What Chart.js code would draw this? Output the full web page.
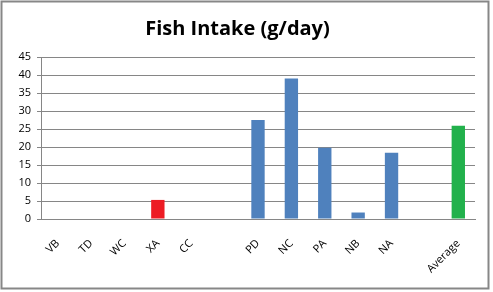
<!DOCTYPE html>
<html>
<head>
<meta charset="utf-8">
<script src="https://cdn.jsdelivr.net/npm/chart.js@4/dist/chart.umd.min.js"></script>
<style>
  html, body { margin: 0; padding: 0; background: #fff; }
  #wrap { width: 493px; height: 292px; }
</style>
</head>
<body>
<div id="wrap"><canvas id="myChart" width="493" height="292"></canvas></div>
<script>
// data
var categories = ['VB', 'TD', 'WC', 'XA', 'CC', '', 'PD', 'NC', 'PA', 'NB', 'NA', '', 'Average'];
var intake = [0, 0, 0, 5.3, 0, null, 27.5, 39, 19.8, 1.8, 18.4, null, 25.9];
var barColors = ['#4f81bd', '#4f81bd', '#4f81bd', '#ed1c24', '#4f81bd', '#4f81bd',
  '#4f81bd', '#4f81bd', '#4f81bd', '#4f81bd', '#4f81bd', '#4f81bd', '#22b14c'];
var yTicks = [0, 5, 10, 15, 20, 25, 30, 35, 40, 45];

// outer frame like the spreadsheet chart border
const framePlugin = {
  id: 'frame',
  beforeDraw: chart => {
    const c = chart.ctx;
    c.save();
    c.fillStyle = '#fff';
    c.fillRect(0, 0, chart.width, chart.height);
    c.strokeStyle = '#878787';
    c.lineWidth = 2;
    c.strokeRect(1.5, 1.5, 487, 287);
    c.restore();
  }
};

const data = {
  labels: categories,
  datasets: [{
    label: 'Fish Intake',
    data: intake,
    backgroundColor: barColors,
    borderWidth: 0,
    categoryPercentage: 1,
    barPercentage: 0.4
  }]
};

const config = {
  type: 'bar',
  data,
  plugins: [framePlugin],
  options: {
    responsive: false,
    animation: false,
    layout: { padding: { left: 0, right: 18, top: 0, bottom: 0 } },
    plugins: {
      legend: { display: false },
      tooltip: { enabled: false },
      title: {
        display: true,
        text: 'Fish Intake (g/day)',
        color: '#000',
        font: { family: 'Open Sans', size: 20, weight: 'bold' },
        padding: { top: 17, bottom: 16 }
      }
    },
    scales: {
      x: {
        grid: { display: false },
        border: { display: true, color: '#868686', width: 1 },
        ticks: {
          color: '#000',
          font: { family: 'Open Sans', size: 11 },
          minRotation: 45,
          maxRotation: 45,
          autoSkip: false,
          padding: 10
        },
        afterFit: s => { s.height = 73; }
      },
      y: {
        min: 0,
        max: 45,
        afterBuildTicks: s => { s.ticks = yTicks.map(v => ({ value: v })); },
        grid: { color: '#868686', tickLength: 4, drawTicks: true },
        border: { display: true, color: '#868686' },
        ticks: {
          color: '#000',
          font: { family: 'Open Sans', size: 11 },
          padding: 6
        },
        afterFit: s => { s.width = 41; }
      }
    }
  }
};

const myChart = new Chart(
  document.getElementById('myChart'),
  config,
);
</script>
</body>
</html>
